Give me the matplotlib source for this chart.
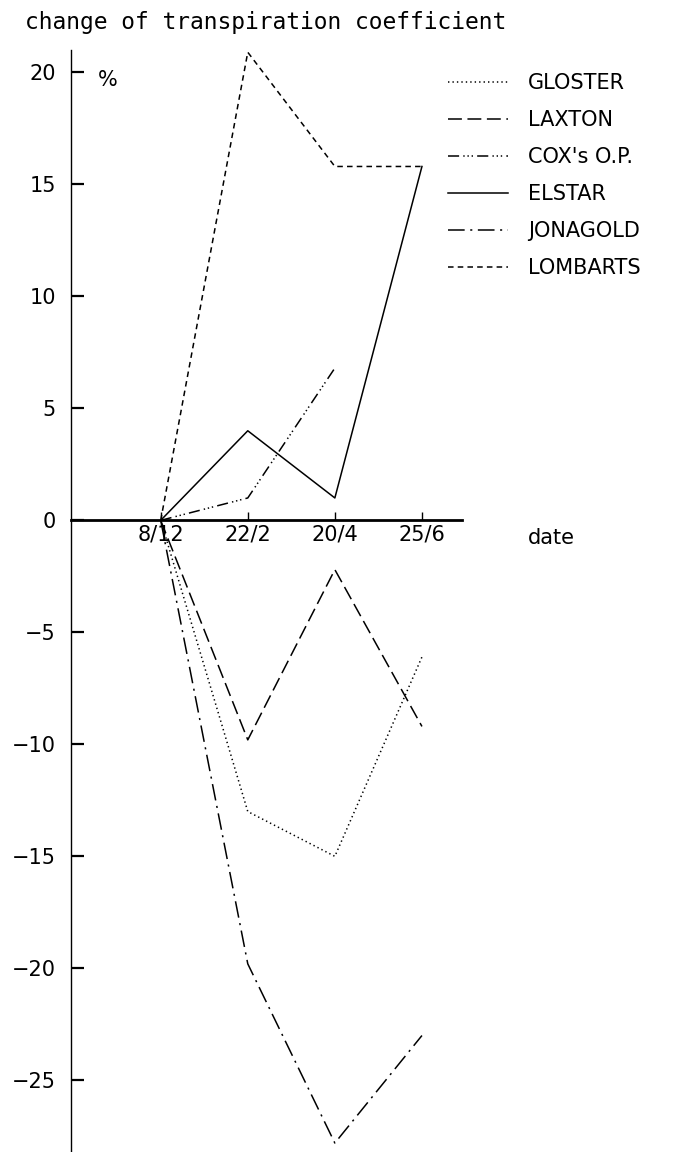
"""Change of transpiration coefficient per apple cultivar (scanned figure redraw)."""

import numpy as np
import matplotlib
matplotlib.use("Agg")
import matplotlib.pyplot as plt

plt.rcParams["font.family"] = ["DejaVu Sans"]
plt.rcParams["lines.scale_dashes"] = False

dates = ["8/12", "22/2", "20/4", "25/6"]
gloster = [0, -13.0, -15.0, -6.1]
laxton = [0, -9.8, -2.2, -9.2]
cox = [0, 1.0, 6.8, np.nan]
elstar = [0, 4.0, 1.0, 15.8]
jonagold = [0, -19.8, -27.8, -23.0]
lombarts = [0, 20.9, 15.8, 15.8]

y_ticks = [20, 15, 10, 5, 0, -5, -10, -15, -20, -25]

series = [
    ("GLOSTER", gloster, (0, (1, 2.2))),
    ("LAXTON", laxton, (0, (10, 4))),
    ("COX's O.P.", cox, (0, (8, 3, 1, 2, 1, 2, 1, 3))),
    ("ELSTAR", elstar, "-"),
    ("JONAGOLD", jonagold, (0, (12, 4, 1.5, 4))),
    ("LOMBARTS", lombarts, (0, (4, 3))),
]

W, H = 696, 1152
fig = plt.figure(figsize=(W / 100, H / 100), dpi=100, facecolor="white")
# axes box in pixel terms: left 71, right 462, top 50, bottom 1152
ax = fig.add_axes([71 / W, 0, (462 - 71) / W, (1152 - 50) / H])

x = np.arange(len(dates))
for name, vals, ls in series:
    ax.plot(x, vals, color="black", linewidth=1.1, linestyle=ls, label=name)

ax.set_xlim(-1.03, 3.46)
ax.set_ylim(-28.2, 21.0)

for side in ("top", "right"):
    ax.spines[side].set_visible(False)
ax.spines["left"].set_linewidth(1.0)
ax.spines["bottom"].set_position(("data", 0))
ax.spines["bottom"].set_linewidth(2.0)

ax.set_yticks(y_ticks)
ax.set_yticklabels([str(v).replace("-", "\u2212") for v in y_ticks])
ax.tick_params(axis="y", direction="in", length=9, width=1.6, pad=11,
               labelsize=15)
ax.set_xticks(x)
ax.set_xticklabels(dates)
ax.tick_params(axis="x", direction="in", length=6, width=1.0, pad=3,
               labelsize=15)
ax.patch.set_alpha(0)

fig.text(25 / W, 1 - 22 / H, "change of transpiration coefficient",
         fontsize=16.5, family="DejaVu Sans Mono", ha="left", va="center")
fig.text(98 / W, 1 - 80 / H, "%", fontsize=15, ha="left", va="center")
fig.text(528 / W, 1 - 538 / H, "date", fontsize=15, ha="left", va="center")

ax.legend(loc="upper left", bbox_to_anchor=(448 / W, 1 - 73 / H),
          bbox_transform=fig.transFigure, frameon=False, fontsize=15,
          handlelength=2.9, handletextpad=0.95, labelspacing=0.82,
          borderaxespad=0, borderpad=0)

fig.savefig("out.png", dpi=100, facecolor="white")
